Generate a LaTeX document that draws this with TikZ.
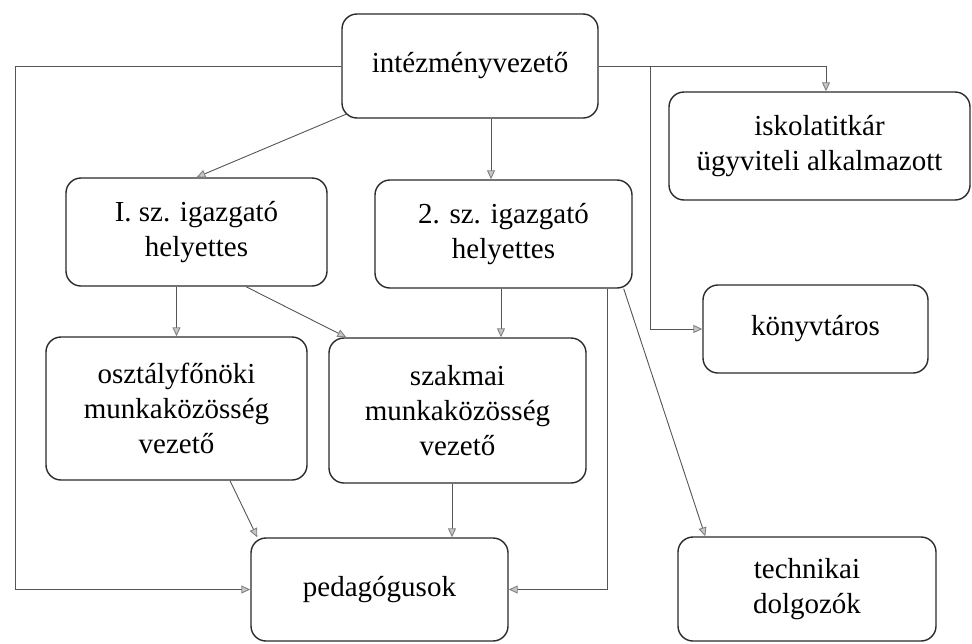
\documentclass[tikz,border=0pt]{standalone}
\usepackage{fontspec}
\setmainfont{Liberation Serif}
\usetikzlibrary{arrows.meta}
\definecolor{boxline}{HTML}{2A2A2A}
\definecolor{conline}{HTML}{555555}
\tikzset{
  orgbox/.style={draw=boxline, line width=1.4pt, rounded corners=15pt, align=center,
    inner sep=0pt, font=\fontsize{29}{35}\selectfont, text=black},
  arr/.style={draw=conline, line width=0.9pt,
    -{Triangle[length=9pt,width=8pt,color=gray,fill=gray!45]}}
}
\begin{document}
\begin{tikzpicture}[x=1pt,y=-1pt]
\useasboundingbox (0,0) rectangle (972,643);
\node[orgbox, minimum width=256pt, minimum height=104pt] (intez) at (470,66) {intézményvezető};
\node[orgbox, minimum width=301pt, minimum height=108pt] (iskola) at (819.5,146) {iskolatitkár\\ügyviteli alkalmazott};
\node[orgbox, minimum width=261pt, minimum height=108pt] (sz1) at (196.5,232) {I. sz. igazgató\\helyettes};
\node[orgbox, minimum width=257pt, minimum height=108pt] (sz2) at (503.5,234) {2. sz. igazgató\\helyettes};
\node[orgbox, minimum width=225pt, minimum height=88pt] (konyv) at (815.5,329) {könyvtáros};
\node[orgbox, minimum width=261pt, minimum height=143pt] (oszt) at (176.5,408.5) {osztályfőnöki\\munkaközösség\\vezető};
\node[orgbox, minimum width=257pt, minimum height=145pt] (szak) at (457.5,410.5) {szakmai\\munkaközösség\\vezető};
\node[orgbox, minimum width=257pt, minimum height=103pt] (pedag) at (379.5,589.5) {pedagógusok};
\node[orgbox, minimum width=258pt, minimum height=104pt] (tech) at (807,589) {technikai\\dolgozók};

\coordinate (br) at (650,66);
\coordinate (ltop) at (15,66);

% from intézményvezető
\draw[arr] (intez.west) -- (ltop) |- (pedag.west);
\draw[arr] (intez.east) -| ([xshift=6.5pt]iskola.north);
\draw[arr] (br) |- (konyv.west);
\draw[arr] ([shift={(6,-5)}]intez.south west) -- (sz1.north);
\draw[arr] ([xshift=-12.5pt]sz2.north |- intez.south) -- ([xshift=-12.5pt]sz2.north);

% from 1. sz.
\draw[arr] (oszt.north |- sz1.south) -- (oszt.north);
\draw[arr] ([xshift=49.5pt]sz1.south) -- ([xshift=18pt]szak.north west);

% from 2. sz.
\draw[arr] ([xshift=-2.5pt]sz2.south) -- ([xshift=-2.5pt]sz2.south |- szak.north);
\draw[arr] ([xshift=104pt]sz2.south) |- (pedag.east);
\draw[arr] ([xshift=-9pt]sz2.south east) -- ([xshift=28pt]tech.north west);

% to pedagógusok
\draw[arr] ([xshift=53.5pt]oszt.south) -- ([xshift=7pt]pedag.north west);
\draw[arr] ([xshift=-5.5pt]szak.south) -- ([xshift=-5.5pt]szak.south |- pedag.north);
\end{tikzpicture}
\end{document}
